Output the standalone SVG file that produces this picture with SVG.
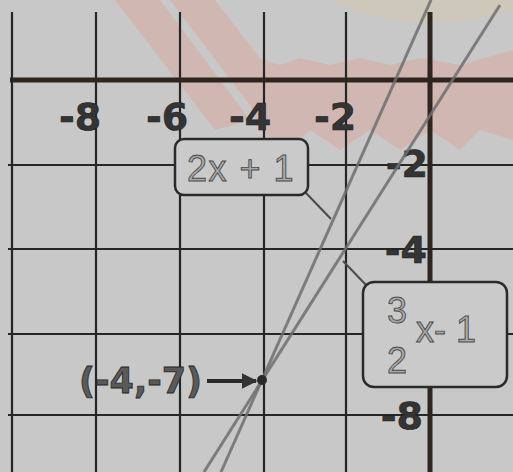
<svg xmlns="http://www.w3.org/2000/svg" width="513" height="472" viewBox="0 0 513 472">
<style>
.grid{stroke:#262626;stroke-width:2.2;fill:none}
.axis{stroke:#2e2420;stroke-width:5;fill:none}
.plot{stroke:#6e6e6e;stroke-width:3;fill:none;opacity:0.85}
.callout{stroke:#4a4a4a;stroke-width:2;fill:none}
.tick{font-family:"DejaVu Sans",sans-serif;font-weight:bold;font-size:38px;fill:#343434;stroke:#1e1e1e;stroke-width:0.6}
.box{fill:#cacaca;stroke:#2a2a2a;stroke-width:2.5}
.eq{font-family:"Liberation Sans",Arial,sans-serif;font-size:36px;fill:#a9a9a9;stroke:#4a4a4a;stroke-width:0.9}
.pt{font-family:"DejaVu Sans",sans-serif;font-weight:bold;font-size:35px;fill:#5a5a5a;stroke:#262626;stroke-width:0.8}
</style>
<defs>
<marker id="ah" viewBox="0 0 10 10" refX="9" refY="5" markerWidth="4" markerHeight="4" orient="auto">
<path d="M0,0 L10,5 L0,10 Z" fill="#333"/>
</marker>
</defs>
<rect width="513" height="472" fill="#c8c8c8"/>
<g id="watermark" opacity="0.35">
<path d="M330,0 Q420,40 513,10 L513,0 Z" fill="#d9c9a0"/>
<path d="M115,0 L160,0 L250,120 L215,130 Z" fill="#e29a8c"/>
<path d="M170,0 L215,0 L300,110 L265,125 Z" fill="#e29a8c"/>
<path d="M230,50 L280,65 L300,58 L330,65 L360,58 L390,65 L420,58 L460,65 L513,50 L513,140 L480,130 L460,150 L430,130 L400,150 L370,130 L340,150 L310,130 L290,150 L260,130 Z" fill="#e29a8c"/>
</g>
<g id="grid">
<line class="grid" x1="12" y1="12" x2="12" y2="472"/>
<line class="grid" x1="96" y1="12" x2="96" y2="472"/>
<line class="grid" x1="180" y1="12" x2="180" y2="472"/>
<line class="grid" x1="264" y1="12" x2="264" y2="472"/>
<line class="grid" x1="346" y1="12" x2="346" y2="472"/>
<line class="grid" x1="8" y1="165" x2="513" y2="165"/>
<line class="grid" x1="8" y1="249" x2="513" y2="249"/>
<line class="grid" x1="8" y1="334" x2="513" y2="334"/>
<line class="grid" x1="8" y1="415" x2="513" y2="415"/>
</g>
<g id="axes">
<line class="axis" x1="10" y1="80" x2="513" y2="80"/>
<line class="axis" x1="430" y1="12" x2="430" y2="472"/>
</g>
<g id="x-labels">
<text class="tick" x="80" y="130" text-anchor="middle">-8</text>
<text class="tick" x="167" y="130" text-anchor="middle">-6</text>
<text class="tick" x="250" y="130" text-anchor="middle">-4</text>
<text class="tick" x="335" y="130" text-anchor="middle">-2</text>
</g>
<g id="y-labels">
<text class="tick" x="428" y="177" text-anchor="end">-2</text>
<text class="tick" x="427" y="263" text-anchor="end">-4</text>
<text class="tick" x="423" y="429" text-anchor="end">-8</text>
</g>
<g id="connectors">
<line class="plot" x1="431" y1="0" x2="221" y2="472"/>
<line class="plot" x1="500" y1="5" x2="204" y2="472"/>
<line class="callout" x1="306" y1="193" x2="331" y2="219"/>
<line class="callout" x1="367" y1="286" x2="343" y2="261"/>
<line stroke="#2a2a2a" stroke-width="4" x1="207" y1="381" x2="256" y2="381" marker-end="url(#ah)"/>
</g>
<g id="node-2x1">
<rect class="box" x="175" y="139" width="133" height="56" rx="9"/>
<text class="eq" x="241" y="181" text-anchor="middle" letter-spacing="1.5">2x + 1</text>
</g>
<g id="node-3-2x-1">
<rect class="box" x="363" y="282" width="144" height="105" rx="11"/>
<text class="eq" x="397" y="323" text-anchor="middle">3</text>
<text class="eq" x="397" y="373" text-anchor="middle">2</text>
<text class="eq" x="416" y="342">x- 1</text>
</g>
<g id="point">
<circle cx="262" cy="380" r="5" fill="#2a2a2a"/>
<text class="pt" x="79" y="393">(-4,-7)</text>
</g>
</svg>
